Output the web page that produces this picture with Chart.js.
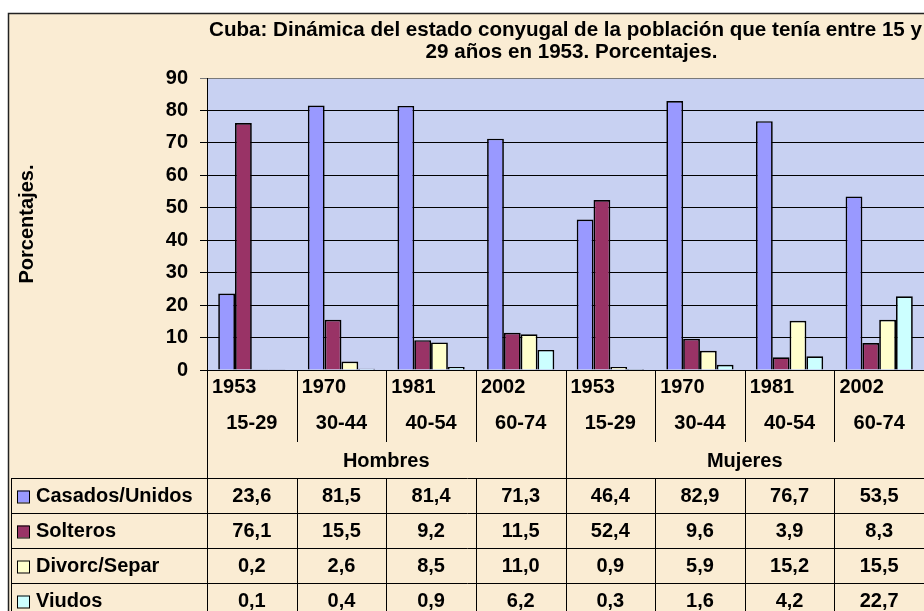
<!DOCTYPE html>
<html>
<head>
<meta charset="utf-8">
<script src="https://cdn.jsdelivr.net/npm/chart.js@4.4.1/dist/chart.umd.min.js"></script>
<style>
  html, body { margin: 0; padding: 0; background: #fff; }
  canvas { display: block; }
</style>
</head>
<body>
<canvas id="chart" width="924" height="611"></canvas>
<script>
// Data
const years = ['1953', '1970', '1981', '2002', '1953', '1970', '1981', '2002'];
const ages = ['15-29', '30-44', '40-54', '60-74', '15-29', '30-44', '40-54', '60-74'];
const groups = ['Hombres', 'Mujeres'];
const seriesNames = ['Casados/Unidos', 'Solteros', 'Divorc/Separ', 'Viudos'];
const casados = [23.6, 81.5, 81.4, 71.3, 46.4, 82.9, 76.7, 53.5];
const solteros = [76.1, 15.5, 9.2, 11.5, 52.4, 9.6, 3.9, 8.3];
const divorc = [0.2, 2.6, 8.5, 11.0, 0.9, 5.9, 15.2, 15.5];
const viudos = [0.1, 0.4, 0.9, 6.2, 0.3, 1.6, 4.2, 22.7];
const yTicks = [0, 10, 20, 30, 40, 50, 60, 70, 80, 90];

const titleLines = [
    'Cuba: Dinámica del estado conyugal de la población que tenía entre 15 y',
    '29 años en 1953. Porcentajes.'
];
const colors = ['#9999FF', '#993366', '#FFFFCC', '#CCFFFF'];
const allSeries = [casados, solteros, divorc, viudos];
const FAMILY = '"Liberation Sans", Arial, sans-serif';
const FONT = 'bold 20px ' + FAMILY;
const TITLE_FONT = 'bold 20.6px ' + FAMILY;

const fmt = v => v.toFixed(1).replace('.', ',');

// backgrounds: parchment frame + bluish plot area
const backgroundPlugin = {
    id: 'backgrounds',
    beforeDraw(chart) {
        const { ctx, chartArea } = chart;
        ctx.save();
        ctx.fillStyle = '#ffffff';
        ctx.fillRect(0, 0, chart.width, chart.height);
        ctx.fillStyle = '#FAECD3';
        ctx.fillRect(8, 13, chart.width - 8, chart.height - 13);
        ctx.strokeStyle = '#222';
        ctx.lineWidth = 1.5;
        ctx.strokeRect(8.5, 13.5, chart.width + 10, chart.height + 10);
        ctx.fillStyle = '#C8D1F2';
        ctx.fillRect(chartArea.left, chartArea.top, chartArea.right - chartArea.left, chartArea.bottom - chartArea.top);
        ctx.restore();
    }
};

// title + category axis + data table
const tablePlugin = {
    id: 'dataTable',
    afterDraw(chart) {
        const { ctx, chartArea } = chart;
        const x = chart.scales.x;
        const half = (x.getPixelForValue(1) - x.getPixelForValue(0)) / 2;
        const edge = i => i < years.length ? x.getPixelForValue(i) - half : x.getPixelForValue(i - 1) + half;
        const bottom = chartArea.bottom;
        const catBottom = 442;
        const tableTop = 478;
        const rowH = 35;

        ctx.save();
        ctx.fillStyle = '#000';
        ctx.strokeStyle = '#000';
        ctx.lineWidth = 1;

        // title
        ctx.font = TITLE_FONT;
        ctx.textAlign = 'center';
        ctx.textBaseline = 'middle';
        const tx = (chartArea.left + chartArea.right) / 2;
        ctx.fillText(titleLines[0], tx, 30);
        ctx.fillText(titleLines[1], tx + 6, 52);
        ctx.font = FONT;

        // category separators
        ctx.beginPath();
        for (let i = 0; i <= years.length; i++) {
            const bx = Math.round(edge(i)) + 0.5;
            const isGroup = i % 4 === 0;
            ctx.moveTo(bx, bottom);
            ctx.lineTo(bx, isGroup ? chart.height : catBottom);
            ctx.moveTo(bx, tableTop);
            ctx.lineTo(bx, chart.height);
        }
        // data table rows
        for (let r = 0; r < 4; r++) {
            const ry = tableTop + r * rowH + 0.5;
            ctx.moveTo(11, ry);
            ctx.lineTo(chart.width, ry);
        }
        ctx.moveTo(11.5, tableTop);
        ctx.lineTo(11.5, chart.height);
        ctx.stroke();

        // years and age ranges
        years.forEach((yr, i) => {
            ctx.textAlign = 'left';
            ctx.fillText(yr, edge(i) + 5, 387);
            ctx.textAlign = 'center';
            ctx.fillText(ages[i], x.getPixelForValue(i), 423);
        });

        // group labels
        groups.forEach((g, gi) => {
            ctx.textAlign = 'center';
            ctx.fillText(g, (edge(gi * 4) + edge(gi * 4 + 4)) / 2, 461);
        });

        // series rows
        allSeries.forEach((vals, r) => {
            const cy = tableTop + r * rowH + rowH / 2 + 1;
            ctx.fillStyle = colors[r];
            ctx.fillRect(17, cy - 6, 12, 12);
            ctx.strokeRect(17.5, cy - 5.5, 12, 12);
            ctx.fillStyle = '#000';
            ctx.textAlign = 'left';
            ctx.fillText(seriesNames[r], 36, cy);
            ctx.textAlign = 'center';
            vals.forEach((v, i) => ctx.fillText(fmt(v), x.getPixelForValue(i), cy));
        });
        ctx.restore();
    }
};

const ctx = document.getElementById('chart').getContext('2d');
new Chart(ctx, {
    type: 'bar',
    data: {
        labels: years.map((y, i) => y + ' ' + ages[i]),
        datasets: seriesNames.map((name, i) => ({
            label: name,
            data: allSeries[i],
            backgroundColor: colors[i],
            borderColor: '#000',
            borderWidth: 1.7,
            categoryPercentage: 0.75,
            barPercentage: 1.0,
        })),
    },
    options: {
        responsive: false,
        animation: false,
        layout: {
            padding: { left: 8, top: 78, right: 0, bottom: 241 },
        },
        plugins: {
            legend: { display: false },
            title: { display: false },
            tooltip: { enabled: false },
        },
        scales: {
            x: {
                display: false,
            },
            y: {
                min: 0,
                max: 90,
                afterFit(scale) { scale.width = 199; },
                afterBuildTicks(scale) { scale.ticks = yTicks.map(v => ({ value: v })); },
                ticks: {
                    color: '#000',
                    font: { family: FAMILY, size: 20, weight: 'bold' },
                    padding: 12,
                },
                grid: {
                    color: c => c.tick && c.tick.value === 90 ? '#7a7a7a' : '#000',
                    lineWidth: 1,
                    tickLength: 7,
                    drawTicks: true,
                },
                border: { display: true, color: '#000', width: 1 },
                title: {
                    display: true,
                    text: 'Porcentajes.',
                    color: '#000',
                    font: { family: FAMILY, size: 20, weight: 'bold' },
                    padding: { top: 7, bottom: 0 },
                },
            },
        },
    },
    plugins: [backgroundPlugin, tablePlugin],
});
</script>
</body>
</html>
